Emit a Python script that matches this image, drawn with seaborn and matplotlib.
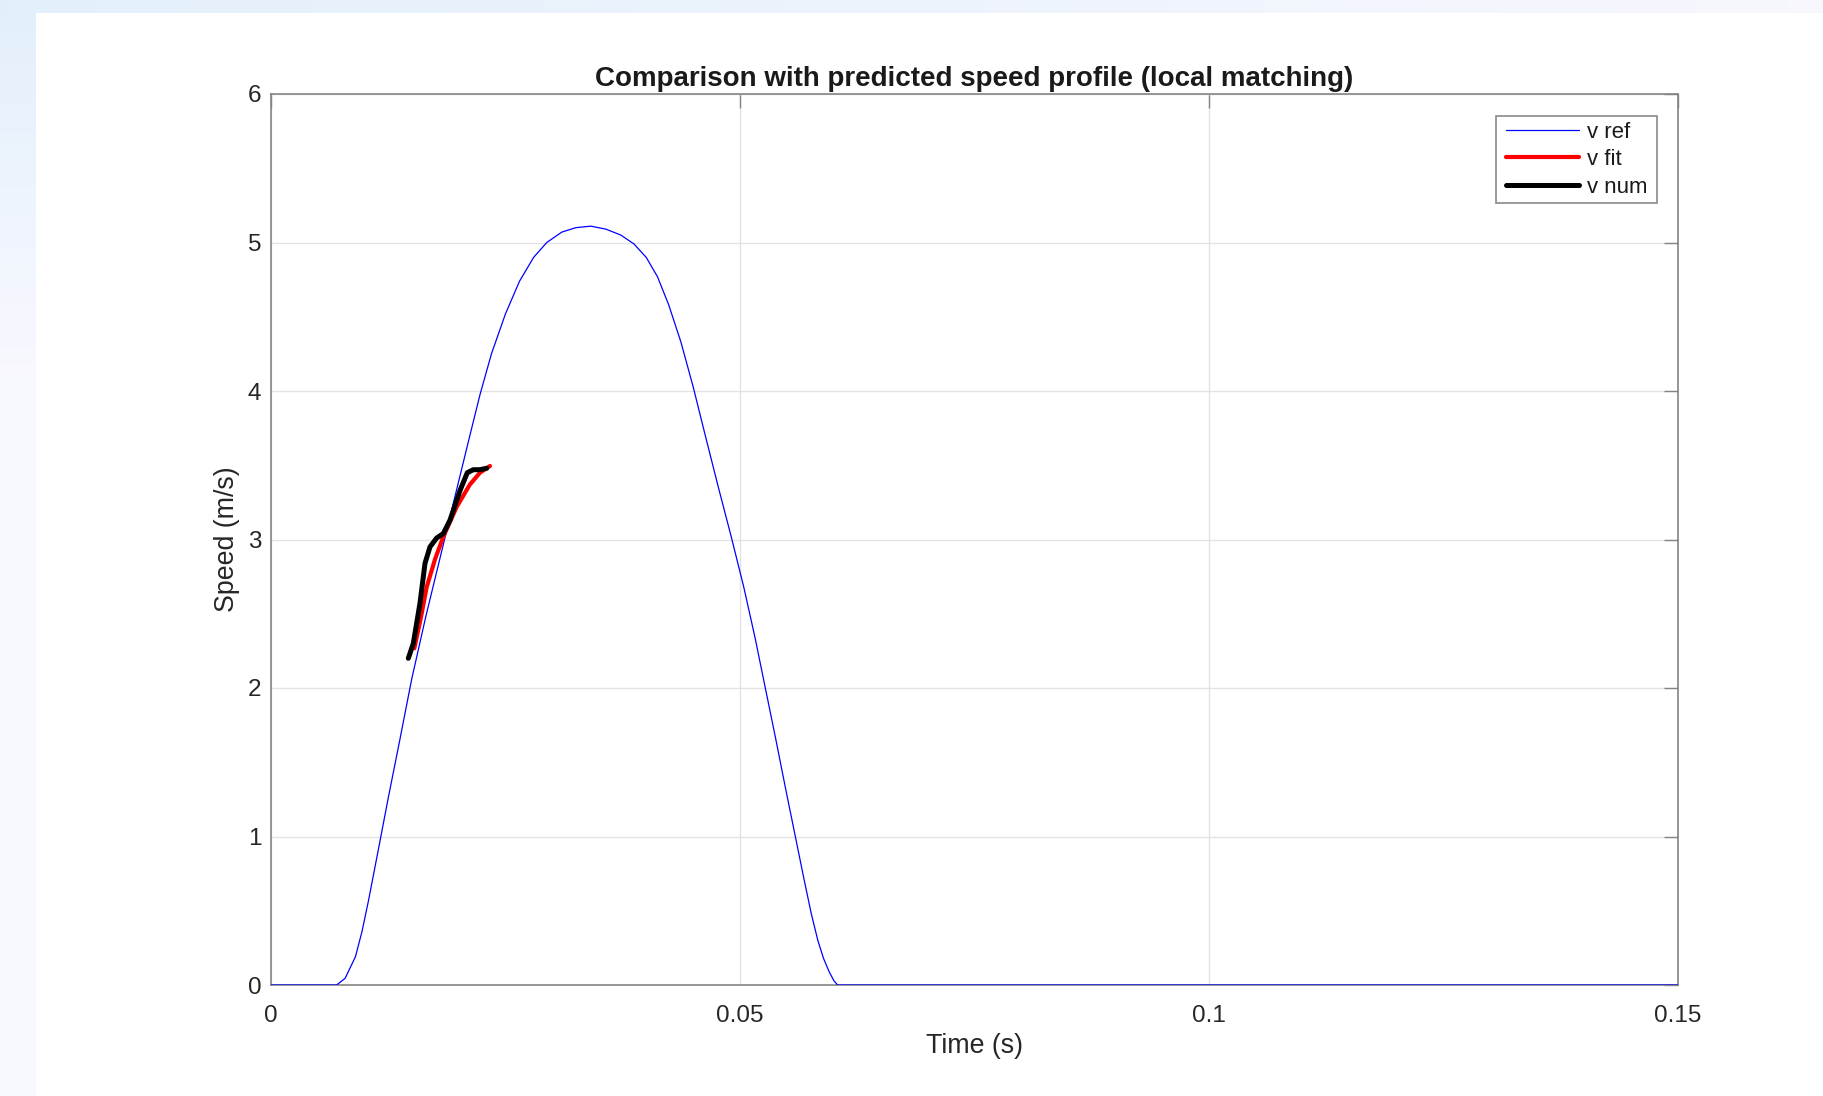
import numpy as np
import pandas as pd
import matplotlib
matplotlib.use("Agg")
import matplotlib.pyplot as plt
from matplotlib.path import Path
import seaborn as sns

# ---------------- data ----------------
t_ref = [0.0, 0.0070, 0.0079, 0.0090, 0.0097, 0.0104, 0.0115, 0.0125, 0.0137,
         0.0150, 0.0165, 0.0185, 0.0200, 0.0212, 0.0223, 0.0235, 0.0250, 0.0265,
         0.0280, 0.0294, 0.0310, 0.0325, 0.0341, 0.0357, 0.0373, 0.0387, 0.0400,
         0.0412, 0.0424, 0.0437, 0.0450, 0.0463, 0.0477, 0.0491, 0.0504, 0.0516,
         0.0527, 0.0538, 0.0549, 0.0559, 0.0568, 0.0576, 0.0583, 0.0589, 0.0595,
         0.0600, 0.0604, 0.15]
v_ref = [0.0, 0.0, 0.045, 0.19, 0.36, 0.57, 0.93, 1.26, 1.64,
         2.06, 2.48, 3.00, 3.39, 3.70, 3.98, 4.25, 4.52, 4.74,
         4.90, 5.00, 5.07, 5.10, 5.11, 5.09, 5.05, 4.99, 4.90,
         4.77, 4.58, 4.33, 4.03, 3.70, 3.35, 3.01, 2.68, 2.34,
         2.00, 1.66, 1.31, 1.00, 0.72, 0.48, 0.30, 0.18, 0.09,
         0.03, 0.0, 0.0]

t_fit = [0.01528, 0.0160, 0.0166, 0.0175, 0.01838, 0.0198, 0.0212, 0.02228, 0.02335]
v_fit = [2.267, 2.48, 2.68, 2.87, 3.02, 3.22, 3.37, 3.45, 3.495]

t_num = [0.01464, 0.01517, 0.01588, 0.01642, 0.01695, 0.01766, 0.01837, 0.01908,
         0.02015, 0.02093, 0.02157, 0.02228, 0.0230]
v_num = [2.20, 2.30, 2.57, 2.84, 2.95, 3.01, 3.04, 3.13,
         3.33, 3.45, 3.47, 3.47, 3.48]

series_names = ["v ref", "v fit", "v num"]
x_ticks = [0, 0.05, 0.1, 0.15]
x_tick_labels = ["0", "0.05", "0.1", "0.15"]
y_ticks = [0, 1, 2, 3, 4, 5, 6]
y_tick_labels = ["0", "1", "2", "3", "4", "5", "6"]

# ---------------- style ----------------
sns.set_theme(style="white")
plt.rcParams['font.family'] = ['Liberation Sans', 'DejaVu Sans']

W, H = 1823, 1096
fig = plt.figure(figsize=(W / 100, H / 100), dpi=100)
fig.patch.set_facecolor("white")

# screenshot background strips (top and left)
bg = fig.add_axes([0, 0, 1, 1], zorder=-10)
bg.axis("off")
c_tl = np.array([0.89, 0.94, 0.985])
c_tr = np.array([0.97, 0.97, 0.995])
c_bl = np.array([0.975, 0.975, 1.0])
grad_h = np.linspace(0, 1, 256)[None, :, None]
top_img = c_tl + (c_tr - c_tl) * grad_h
bg.imshow(top_img, extent=(0, W, 13, 0), aspect="auto", interpolation="bilinear")
grad_v = np.linspace(0, 1, 256)[:, None, None]
left_img = c_tl + (c_bl - c_tl) * np.clip(grad_v * 3, 0, 1)
bg.imshow(left_img, extent=(0, 36, H, 13), aspect="auto", interpolation="bilinear")
bg.set_xlim(0, W)
bg.set_ylim(H, 0)

ax_l, ax_r, ax_t, ax_b = 271, 1678, 94, 985
ax = fig.add_axes([ax_l / W, 1 - ax_b / H, (ax_r - ax_l) / W, (ax_b - ax_t) / H])
ax.set_facecolor("white")

df_ref = pd.DataFrame({"t": t_ref, "v": v_ref})
df_fit = pd.DataFrame({"t": t_fit, "v": v_fit})
df_num = pd.DataFrame({"t": t_num, "v": v_num})

sns.lineplot(data=df_ref, x="t", y="v", ax=ax, color="#0000ff", lw=0.9,
             label=series_names[0], sort=False, estimator=None, zorder=3)
sns.lineplot(data=df_fit, x="t", y="v", ax=ax, color="#ff0000", lw=3.0,
             label=series_names[1], sort=False, estimator=None, zorder=4)
sns.lineplot(data=df_num, x="t", y="v", ax=ax, color="#000000", lw=3.6,
             label=series_names[2], sort=False, estimator=None, zorder=5)

ax.set_xlim(0, 0.15)
ax.set_ylim(0, 6)
ax.set_xticks(x_ticks)
ax.set_xticklabels(x_tick_labels)
ax.set_yticks(y_ticks)
ax.set_yticklabels(y_tick_labels)

ax.grid(True, color="#e3e3e3", lw=1.0, zorder=0)
ax.set_axisbelow(True)

spine_c = "#858585"
for s in ax.spines.values():
    s.set_color(spine_c)
    s.set_linewidth(1.2)
    s.set_visible(True)

ax.tick_params(axis="both", which="major", direction="in", length=10, width=1.0,
               color=spine_c, top=True, right=True, labelsize=17.5,
               labelcolor="#262626")
ax.tick_params(axis="x", pad=14.5)
ax.tick_params(axis="y", pad=7)

ax.set_xlabel("Time (s)", fontsize=19.3, color="#262626", labelpad=4.5)
ax.set_ylabel("Speed (m/s)", fontsize=19.3, color="#262626", labelpad=5.6)
ax.set_title("Comparison with predicted speed profile (local matching)",
             fontsize=20, fontweight="bold", color="#1a1a1a", pad=6)

extra_x = 4.0  # extra horizontal frame padding in pixels
leg = ax.legend(loc="upper right",
                bbox_to_anchor=((1657 - extra_x - ax_l) / (ax_r - ax_l),
                                (ax_b - 116) / (ax_b - ax_t)),
                borderaxespad=0, fontsize=16, frameon=True, fancybox=False,
                framealpha=1, edgecolor="#8a8a8a", handlelength=3.3,
                handletextpad=0.35, labelspacing=0.3, borderpad=0.25)


def wide_square(x0, y0, width, height, mutation_size):
    dx = extra_x
    verts = [(x0 - dx, y0), (x0 + width + dx, y0), (x0 + width + dx, y0 + height),
             (x0 - dx, y0 + height), (x0 - dx, y0)]
    return Path(verts, closed=True)


leg.legendPatch.set_boxstyle(wide_square)
leg.get_frame().set_linewidth(1.2)
for txt in leg.get_texts():
    txt.set_color("#1a1a1a")

fig.savefig("out.png", dpi=100, facecolor="white")
